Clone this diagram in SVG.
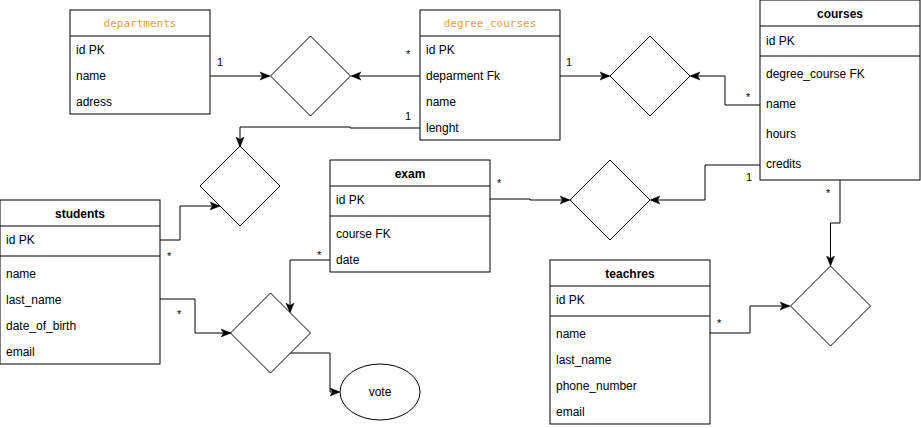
<svg xmlns="http://www.w3.org/2000/svg" width="921" height="428" viewBox="0 0 921 428">
<style>
.box{fill:#fff;stroke:#000;stroke-width:1}
.ln{stroke:#000;stroke-width:1;fill:none}
.t{font-family:"Liberation Sans",Arial,sans-serif;font-size:12px;fill:#000}
.h{font-family:"Liberation Sans",Arial,sans-serif;font-size:12px;font-weight:bold;fill:#000;text-anchor:middle}
.o{font-family:"DejaVu Sans Mono","Liberation Mono",monospace;font-size:11px;fill:#f09a3a;text-anchor:middle}
.lb{font-family:"Liberation Sans",Arial,sans-serif;font-size:11px;fill:#000}
.c{fill:none;stroke:#000;stroke-width:1}
.rel{fill:#fff;stroke:#000;stroke-width:1}
</style>
<defs>
<marker id="a" viewBox="0 0 10 10" refX="9" refY="5" markerWidth="10" markerHeight="10" markerUnits="userSpaceOnUse" orient="auto">
<path d="M0,1 L10,5 L0,9 L2.5,5 Z" fill="#000" stroke="#000" stroke-width="0.5"/>
</marker>
</defs>
<rect width="921" height="428" fill="#fff"/>

<g id="connectors">
<polyline class="c" points="210,76 269,76" marker-end="url(#a)"/>
<polyline class="c" points="420,76 352,76" marker-end="url(#a)"/>
<polyline class="c" points="560,76 609,76" marker-end="url(#a)"/>
<polyline class="c" points="760,105 725,105 725,76 691,76" marker-end="url(#a)"/>
<polyline class="c" points="420,128 350,128 350,127 240,127 240,146" marker-end="url(#a)"/>
<polyline class="c" points="160,240 180,240 180,206 219,206" marker-end="url(#a)"/>
<polyline class="c" points="760,165 705,165 705,200 651,200" marker-end="url(#a)"/>
<polyline class="c" points="490,199 530,199 530,200 569,200" marker-end="url(#a)"/>
<polyline class="c" points="160,299 195,299 195,333 230,333" marker-end="url(#a)"/>
<polyline class="c" points="330,260 290,260 290,312" marker-end="url(#a)"/>
<polyline class="c" points="290,353 330,353 330,392 339,392" marker-end="url(#a)"/>
<polyline class="c" points="840,180 840,223 830.5,223 830.5,265" marker-end="url(#a)"/>
<polyline class="c" points="710,333 750,333 750,306 789,306" marker-end="url(#a)"/>
<text class="lb" x="217" y="66">1</text>
<text class="lb" x="406" y="58">*</text>
<text class="lb" x="566" y="66">1</text>
<text class="lb" x="746" y="101">*</text>
<text class="lb" x="405" y="120">1</text>
<text class="lb" x="167" y="260">*</text>
<text class="lb" x="746" y="181">1</text>
<text class="lb" x="497" y="187">*</text>
<text class="lb" x="177" y="318">*</text>
<text class="lb" x="317" y="259">*</text>
<text class="lb" x="826" y="197">*</text>
<text class="lb" x="717" y="327">*</text>
</g>

<g id="departments">
<rect class="box" x="70" y="10" width="140" height="104"/>
<line class="ln" x1="70" y1="36" x2="210" y2="36"/>
<text class="o" x="140" y="27">departments</text>
<text class="t" x="76" y="54">id PK</text>
<text class="t" x="76" y="80">name</text>
<text class="t" x="76" y="106">adress</text>
</g>

<g id="degree_courses">
<rect class="box" x="420" y="10" width="140" height="130"/>
<line class="ln" x1="420" y1="36" x2="560" y2="36"/>
<text class="o" x="490" y="27">degree_courses</text>
<text class="t" x="426" y="54">id PK</text>
<text class="t" x="426" y="80">deparment Fk</text>
<text class="t" x="426" y="106">name</text>
<text class="t" x="426" y="132">lenght</text>
</g>

<g id="courses">
<rect class="box" x="760" y="0" width="160" height="180"/>
<line class="ln" x1="760" y1="26" x2="920" y2="26"/>
<line class="ln" x1="760" y1="56" x2="920" y2="56"/>
<text class="h" x="840" y="18">courses</text>
<text class="t" x="766" y="45">id PK</text>
<text class="t" x="766" y="78">degree_course FK</text>
<text class="t" x="766" y="108">name</text>
<text class="t" x="766" y="138">hours</text>
<text class="t" x="766" y="168">credits</text>
</g>

<g id="students">
<rect class="box" x="0" y="200" width="160" height="164"/>
<line class="ln" x1="0" y1="226" x2="160" y2="226"/>
<line class="ln" x1="0" y1="256" x2="160" y2="256"/>
<text class="h" x="80" y="218">students</text>
<text class="t" x="6" y="244">id PK</text>
<text class="t" x="6" y="278">name</text>
<text class="t" x="6" y="304">last_name</text>
<text class="t" x="6" y="330">date_of_birth</text>
<text class="t" x="6" y="356">email</text>
</g>

<g id="exam">
<rect class="box" x="330" y="160" width="160" height="112"/>
<line class="ln" x1="330" y1="186" x2="490" y2="186"/>
<line class="ln" x1="330" y1="216" x2="490" y2="216"/>
<text class="h" x="410" y="178">exam</text>
<text class="t" x="336" y="204">id PK</text>
<text class="t" x="336" y="238">course FK</text>
<text class="t" x="336" y="264">date</text>
</g>

<g id="teachres">
<rect class="box" x="550" y="260" width="160" height="164"/>
<line class="ln" x1="550" y1="286" x2="710" y2="286"/>
<line class="ln" x1="550" y1="316" x2="710" y2="316"/>
<text class="h" x="630" y="278">teachres</text>
<text class="t" x="556" y="304">id PK</text>
<text class="t" x="556" y="338">name</text>
<text class="t" x="556" y="364">last_name</text>
<text class="t" x="556" y="390">phone_number</text>
<text class="t" x="556" y="416">email</text>
</g>

<g id="rel1"><polygon class="rel" points="310.5,36 350.5,76 310.5,116 270.5,76"/></g>
<g id="rel2"><polygon class="rel" points="650,36 690,76 650,116 610,76"/></g>
<g id="rel3"><polygon class="rel" points="610,160 650,200 610,240 570,200"/></g>
<g id="rel4"><polygon class="rel" points="240,146 280,186 240,226 200,186"/></g>
<g id="rel5"><polygon class="rel" points="270.5,293 310.5,333 270.5,373 230.5,333"/></g>
<g id="rel6"><polygon class="rel" points="830.5,266 870.5,306 830.5,346 790.5,306"/></g>

<g id="vote">
<ellipse class="rel" cx="380" cy="392" rx="40" ry="28"/>
<text class="t" x="380" y="396" text-anchor="middle">vote</text>
</g>
</svg>
